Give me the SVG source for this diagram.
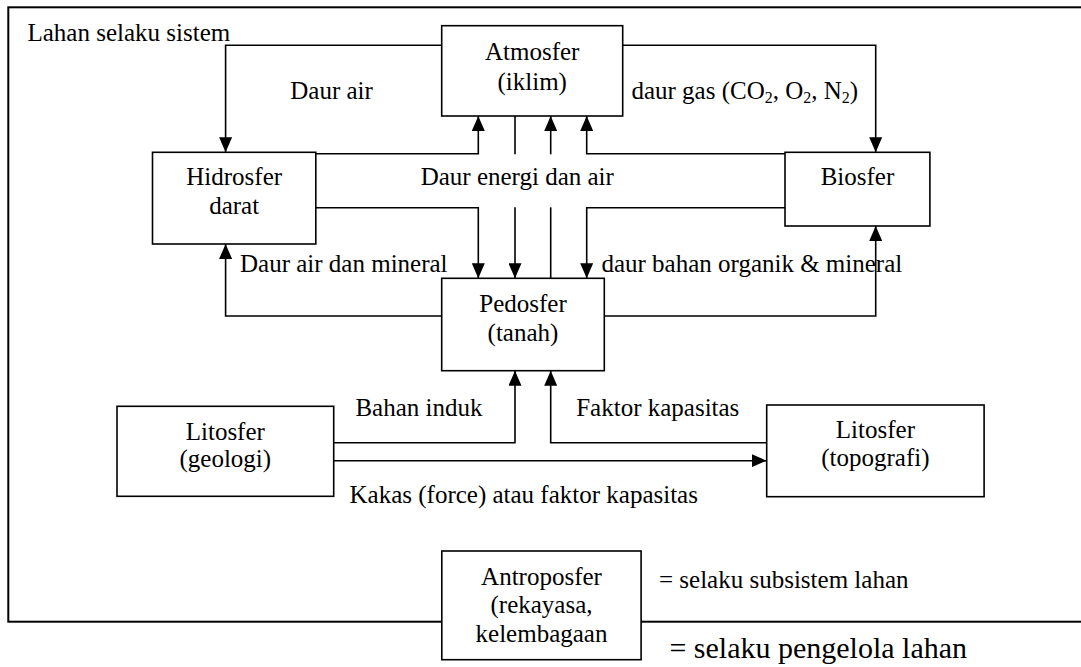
<svg xmlns="http://www.w3.org/2000/svg" width="1081" height="667" viewBox="0 0 1081 667" font-family="'Liberation Serif', 'Times New Roman', Times, serif">
<style>
text{font-family:'Liberation Serif','Times New Roman',Times,serif;font-size:25px;fill:#000}
.c{text-anchor:middle}
.box{fill:#fff;stroke:#000;stroke-width:1.6}
.ln{fill:none;stroke:#000;stroke-width:1.6}
.ar{marker-end:url(#ah)}
</style>
<defs>
<marker id="ah" markerUnits="userSpaceOnUse" markerWidth="16" markerHeight="13" refX="15" refY="6.5" orient="auto">
<path d="M0,0 L15,6.5 L0,13 z" fill="#000"/>
</marker>
</defs>
<rect x="8.3" y="7.3" width="1090" height="614.4" fill="#fff" stroke="#000" stroke-width="2"/>
<text x="27.5" y="40.7">Lahan selaku sistem</text>
<g id="connectors">
<path class="ln ar" d="M441.7,45.3 H225.6 V152.3"/>
<path class="ln ar" d="M315.8,153.7 H478.3 V116"/>
<path class="ln ar" d="M315.8,207.7 H478.3 V278.3"/>
<path class="ln" d="M515,116 V154.3"/>
<path class="ln ar" d="M515,207.3 V278.3"/>
<path class="ln" d="M550.7,278.3 V207.3"/>
<path class="ln ar" d="M550.7,154.3 V116"/>
<path class="ln ar" d="M785,153.7 H586.7 V116"/>
<path class="ln ar" d="M622.7,45.3 H875.7 V152.3"/>
<path class="ln ar" d="M785,207.7 H586.7 V278.3"/>
<path class="ln ar" d="M441.7,316 H225.6 V244"/>
<path class="ln ar" d="M604.3,316 H875.7 V226"/>
<path class="ln ar" d="M333.7,442.7 H515 V370.7"/>
<path class="ln ar" d="M333.7,460.7 H766.7"/>
<path class="ln ar" d="M766.7,442.7 H550.7 V370.7"/>
</g>
<g id="labels">
<text x="290.3" y="99.3">Daur air</text>
<text x="631.4" y="99.3">daur gas (CO<tspan font-size="16" dy="4">2</tspan><tspan dy="-4">, O</tspan><tspan font-size="16" dy="4">2</tspan><tspan dy="-4">, N</tspan><tspan font-size="16" dy="4">2</tspan><tspan dy="-4">)</tspan></text>
<text x="420.7" y="185">Daur energi dan air</text>
<text x="240" y="271.7">Daur air dan mineral</text>
<text x="601.4" y="271.7">daur bahan organik &amp; mineral</text>
<text x="355.4" y="416">Bahan induk</text>
<text x="576.2" y="416">Faktor kapasitas</text>
<text x="349.5" y="502.7">Kakas (force) atau faktor kapasitas</text>
<text x="659" y="588.3">= selaku subsistem lahan</text>
<text x="669.4" y="658.3" style="font-size:30px">= selaku pengelola lahan</text>
</g>
<g id="atmosfer">
<rect class="box" x="441.7" y="25.7" width="181" height="90.3"/>
<text class="c" x="532.2" y="60">Atmosfer</text>
<text class="c" x="532.2" y="89.5">(iklim)</text>
</g>
<g id="hidrosfer">
<rect class="box" x="152.5" y="152.3" width="163.3" height="91.7"/>
<text class="c" x="234.2" y="185">Hidrosfer</text>
<text class="c" x="234.2" y="214.3">darat</text>
</g>
<g id="biosfer">
<rect class="box" x="785" y="152.3" width="144.9" height="73.7"/>
<text class="c" x="857.5" y="185">Biosfer</text>
</g>
<g id="pedosfer">
<rect class="box" x="441.7" y="278.3" width="162.6" height="92.4"/>
<text class="c" x="523" y="311.7">Pedosfer</text>
<text class="c" x="523" y="341">(tanah)</text>
</g>
<g id="litosfer-geologi">
<rect class="box" x="117" y="406.3" width="216.7" height="90"/>
<text class="c" x="225.3" y="440">Litosfer</text>
<text class="c" x="225.3" y="467">(geologi)</text>
</g>
<g id="litosfer-topografi">
<rect class="box" x="766.7" y="405" width="217.4" height="91.7"/>
<text class="c" x="875.4" y="437.7">Litosfer</text>
<text class="c" x="875.4" y="466">(topografi)</text>
</g>
<g id="antroposfer">
<rect class="box" x="441.8" y="551" width="199.3" height="108.7"/>
<text class="c" x="541.5" y="585">Antroposfer</text>
<text class="c" x="541.5" y="612.7">(rekayasa,</text>
<text class="c" x="541.5" y="641.7">kelembagaan</text>
</g>
</svg>
